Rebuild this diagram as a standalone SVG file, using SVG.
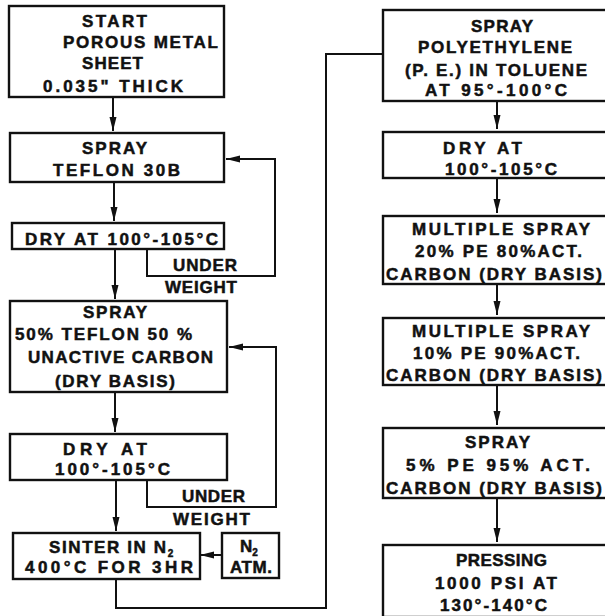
<svg xmlns="http://www.w3.org/2000/svg" width="605" height="616" viewBox="0 0 605 616">
<style>
.box{fill:#fff;stroke:#111;stroke-width:2.4}
.ln{fill:none;stroke:#111;stroke-width:2}
text{font-family:"Liberation Sans",Arial,sans-serif;font-weight:bold;font-size:17px;fill:#111;stroke:#111;stroke-width:0.5}
.sub{font-size:10px}
</style>
<defs>
<marker id="ah" viewBox="0 0 14 8" refX="14" refY="4" markerWidth="14" markerHeight="8" markerUnits="userSpaceOnUse" orient="auto">
<path d="M0,0.5 L14,4 L0,7.5 z" fill="#111"/>
</marker>
</defs>
<rect width="605" height="616" fill="#fff"/>

<g id="connectors">
<path class="ln" d="M113,97 V131" marker-end="url(#ah)"/>
<path class="ln" d="M114,182 V221" marker-end="url(#ah)"/>
<path class="ln" d="M115,249 V299" marker-end="url(#ah)"/>
<path class="ln" d="M115,392 V432" marker-end="url(#ah)"/>
<path class="ln" d="M116,480 V531" marker-end="url(#ah)"/>
<path class="ln" d="M147,249 V276 H275 V159 H226" marker-end="url(#ah)"/>
<path class="ln" d="M147,480 V507 H276 V347 H229" marker-end="url(#ah)"/>
<path class="ln" d="M222,555 H200" marker-end="url(#ah)"/>
<path class="ln" d="M116,579 V608 H326 V54 H383"/>
<path class="ln" d="M497,101 V129" marker-end="url(#ah)"/>
<path class="ln" d="M497,178 V213" marker-end="url(#ah)"/>
<path class="ln" d="M497,284 V315" marker-end="url(#ah)"/>
<path class="ln" d="M497,385 V425" marker-end="url(#ah)"/>
<path class="ln" d="M497,498 V542" marker-end="url(#ah)"/>
<text x="173" y="271" textLength="64" lengthAdjust="spacing">UNDER</text>
<text x="165" y="293" textLength="72" lengthAdjust="spacing">WEIGHT</text>
<text x="182" y="502" textLength="63" lengthAdjust="spacing">UNDER</text>
<text x="173" y="525" textLength="77" lengthAdjust="spacing">WEIGHT</text>
</g>

<g id="start">
<rect class="box" x="9" y="6" width="215" height="91"/>
<text x="82" y="27" textLength="65" lengthAdjust="spacing">START</text>
<text x="63" y="48" textLength="155" lengthAdjust="spacing">POROUS METAL</text>
<text x="82" y="69" textLength="61" lengthAdjust="spacing">SHEET</text>
<text x="43" y="92" textLength="140" lengthAdjust="spacing">0.035" THICK</text>
</g>

<g id="spray-teflon">
<rect class="box" x="10" y="133" width="214" height="49"/>
<text x="82" y="154" textLength="65" lengthAdjust="spacing">SPRAY</text>
<text x="53" y="176" textLength="127" lengthAdjust="spacing">TEFLON 30B</text>
</g>

<g id="dry1">
<rect class="box" x="12" y="223" width="212" height="26"/>
<text x="25" y="245" textLength="193" lengthAdjust="spacing">DRY AT 100°-105°C</text>
</g>

<g id="spray-mix">
<rect class="box" x="10" y="301" width="217" height="91"/>
<text x="83" y="318" textLength="64" lengthAdjust="spacing">SPRAY</text>
<text x="15" y="340" textLength="177" lengthAdjust="spacing">50% TEFLON 50 %</text>
<text x="28" y="363" textLength="185" lengthAdjust="spacing">UNACTIVE CARBON</text>
<text x="55" y="387" textLength="120" lengthAdjust="spacing">(DRY BASIS)</text>
</g>

<g id="dry2">
<rect class="box" x="10" y="434" width="217" height="46"/>
<text x="63" y="455" textLength="84" lengthAdjust="spacing">DRY AT</text>
<text x="55" y="475" textLength="115" lengthAdjust="spacing">100°-105°C</text>
</g>

<g id="sinter">
<rect class="box" x="13" y="533" width="187" height="46"/>
<text x="49" y="553" letter-spacing="1.6">SINTER IN N<tspan class="sub" dy="4">2</tspan></text>
<text x="25" y="573" textLength="168" lengthAdjust="spacing">400°C FOR 3HR</text>
</g>

<g id="n2-atm">
<rect class="box" x="222" y="533" width="57" height="45"/>
<text x="240" y="552">N<tspan class="sub" dy="4">2</tspan></text>
<text x="230" y="573" textLength="42" lengthAdjust="spacing">ATM.</text>
</g>

<g id="spray-pe">
<rect class="box" x="383" y="10" width="230" height="91"/>
<text x="471" y="32" textLength="62" lengthAdjust="spacing">SPRAY</text>
<text x="418" y="53" textLength="154" lengthAdjust="spacing">POLYETHYLENE</text>
<text x="405" y="76" textLength="182" lengthAdjust="spacing">(P. E.) IN TOLUENE</text>
<text x="425" y="96" textLength="142" lengthAdjust="spacing">AT 95°-100°C</text>
</g>

<g id="dry3">
<rect class="box" x="383" y="132" width="230" height="46"/>
<text x="443" y="154" textLength="79" lengthAdjust="spacing">DRY AT</text>
<text x="445" y="175" textLength="112" lengthAdjust="spacing">100°-105°C</text>
</g>

<g id="multi20">
<rect class="box" x="383" y="216" width="230" height="68"/>
<text x="412" y="235" textLength="178" lengthAdjust="spacing">MULTIPLE SPRAY</text>
<text x="415" y="257" textLength="167" lengthAdjust="spacing">20% PE 80%ACT.</text>
<text x="386" y="280" textLength="216" lengthAdjust="spacing">CARBON (DRY BASIS)</text>
</g>

<g id="multi10">
<rect class="box" x="383" y="318" width="230" height="67"/>
<text x="412" y="337" textLength="178" lengthAdjust="spacing">MULTIPLE SPRAY</text>
<text x="413" y="359" textLength="167" lengthAdjust="spacing">10% PE 90%ACT.</text>
<text x="386" y="381" textLength="216" lengthAdjust="spacing">CARBON (DRY BASIS)</text>
</g>

<g id="spray5">
<rect class="box" x="383" y="428" width="230" height="70"/>
<text x="465" y="448" textLength="65" lengthAdjust="spacing">SPRAY</text>
<text x="406" y="471" textLength="184" lengthAdjust="spacing">5% PE 95% ACT.</text>
<text x="386" y="494" textLength="216" lengthAdjust="spacing">CARBON (DRY BASIS)</text>
</g>

<g id="pressing">
<rect class="box" x="383" y="545" width="230" height="72"/>
<text x="456" y="566" textLength="91" lengthAdjust="spacing">PRESSING</text>
<text x="435" y="589" textLength="122" lengthAdjust="spacing">1000 PSI AT</text>
<text x="440" y="611" textLength="107" lengthAdjust="spacing">130°-140°C</text>
</g>
</svg>
